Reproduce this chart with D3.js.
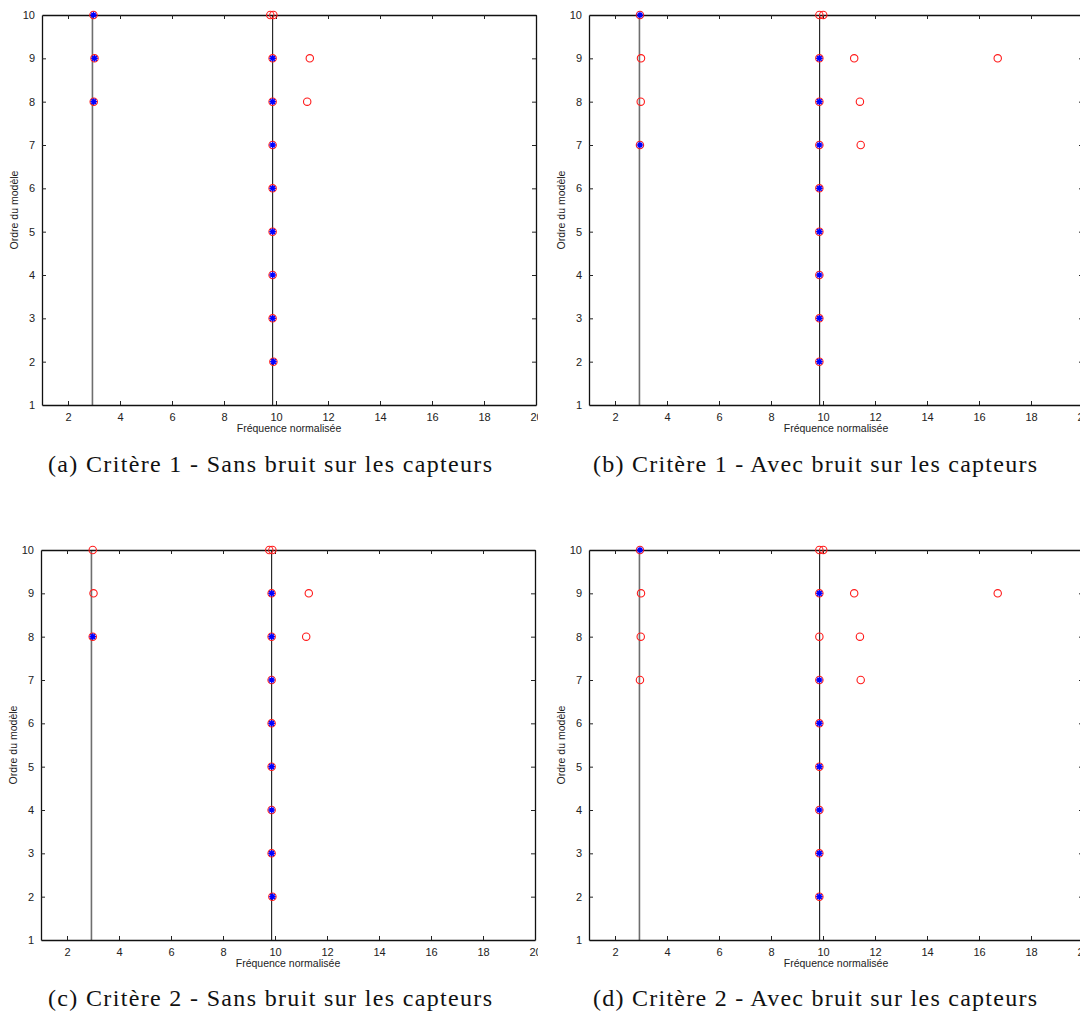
<!DOCTYPE html>
<html>
<head>
<meta charset="utf-8">
<script src="https://cdn.jsdelivr.net/npm/d3@7"></script>
<style>
  html, body { margin: 0; padding: 0; background: #fff; }
  svg { display: block; }
</style>
</head>
<body>
<svg id="chart" width="1080" height="1014"></svg>
<script>
// ---------------- DATA ----------------
const xTicks = [2, 4, 6, 8, 10, 12, 14, 16, 18, 20];
const yTicks = [1, 2, 3, 4, 5, 6, 7, 8, 9, 10];
const xDomain = [1, 20];
const yDomain = [1, 10];
const trueFreqs = [2.94, 9.87];

const xLabel = "Fréquence normalisée";
const yLabel = "Ordre du modèle";

const captions = [
  "(a) Critère 1 - Sans bruit sur les capteurs",
  "(b) Critère 1 - Avec bruit sur les capteurs",
  "(c) Critère 2 - Sans bruit sur les capteurs",
  "(d) Critère 2 - Avec bruit sur les capteurs"
];

// [frequency, model order]
const redA = [[2.98,10],[9.78,10],[9.9,10],[3.02,9],[9.87,9],[11.3,9],[2.99,8],[9.87,8],[11.2,8],
              [9.87,7],[9.87,6],[9.87,5],[9.87,4],[9.87,3],[9.9,2]];
const blueA = [[2.98,10],[3.02,9],[9.87,9],[2.99,8],[9.87,8],[9.87,7],[9.87,6],[9.87,5],[9.87,4],[9.87,3],[9.9,2]];

const redB = [[2.96,10],[9.86,10],[10.01,10],[3.0,9],[9.86,9],[11.2,9],[16.72,9],[2.99,8],[9.86,8],[11.42,8],
              [2.96,7],[9.86,7],[11.45,7],[9.86,6],[9.86,5],[9.86,4],[9.86,3],[9.86,2]];
const blueB = [[2.96,10],[9.86,9],[9.86,8],[2.96,7],[9.86,7],[9.86,6],[9.86,5],[9.86,4],[9.86,3],[9.86,2]];

const redC = [[2.99,10],[9.78,10],[9.9,10],[3.02,9],[9.87,9],[11.3,9],[2.99,8],[9.87,8],[11.2,8],
              [9.87,7],[9.87,6],[9.87,5],[9.87,4],[9.87,3],[9.9,2]];
const blueC = [[9.87,9],[2.99,8],[9.87,8],[9.87,7],[9.87,6],[9.87,5],[9.87,4],[9.87,3],[9.9,2]];

const redD = [[2.96,10],[9.86,10],[10.01,10],[3.0,9],[9.86,9],[11.2,9],[16.72,9],[2.99,8],[9.86,8],[11.42,8],
              [2.96,7],[9.86,7],[11.45,7],[9.86,6],[9.86,5],[9.86,4],[9.86,3],[9.86,2]];
const blueD = [[2.96,10],[9.86,9],[9.86,7],[9.86,6],[9.86,5],[9.86,4],[9.86,3],[9.86,2]];

// ---------------- LAYOUT ----------------
const panels = [
  { red: redA, blue: blueA, left: 42,  top: 15,  clipX: 0,   clipW: 538, capX: 270, capY: 472 },
  { red: redB, blue: blueB, left: 589, top: 15,  clipX: 540, clipW: 540, capX: 815, capY: 472 },
  { red: redC, blue: blueC, left: 41,  top: 550, clipX: 0,   clipW: 538, capX: 270, capY: 1006 },
  { red: redD, blue: blueD, left: 589, top: 550, clipX: 540, clipW: 540, capX: 815, capY: 1006 }
];
const plotW = 494, plotH = 390;

const svg = d3.select("#chart");
const defs = svg.append("defs");

panels.forEach((p, i) => {
  const clipId = "clip" + i;
  defs.append("clipPath").attr("id", clipId)
    .append("rect").attr("x", p.clipX).attr("y", p.top - 15).attr("width", p.clipW).attr("height", 470);

  const x = d3.scaleLinear().domain(xDomain).range([p.left, p.left + plotW]);
  const y = d3.scaleLinear().domain(yDomain).range([p.top + plotH, p.top]);

  const g = svg.append("g").attr("clip-path", `url(#${clipId})`);

  // true frequency lines
  g.selectAll("line.truth").data(trueFreqs).join("line")
    .attr("class", "truth")
    .attr("x1", d => x(d)).attr("x2", d => x(d))
    .attr("y1", y(yDomain[0])).attr("y2", y(yDomain[1]))
    .attr("stroke", (d, k) => k === 0 ? "#6e6e6e" : "#1a1a1a")
    .attr("stroke-width", (d, k) => k === 0 ? 1.6 : 1.1);

  // axes (box with inward ticks)
  const axFont = "Liberation Sans, Arial, sans-serif";
  const bottom = g.append("g").attr("transform", `translate(0,${p.top + plotH})`)
    .call(d3.axisBottom(x).tickValues(xTicks).tickSizeInner(-4).tickSizeOuter(0).tickPadding(8));
  const topAx = g.append("g").attr("transform", `translate(0,${p.top})`)
    .call(d3.axisTop(x).tickValues(xTicks).tickSizeInner(-4).tickSizeOuter(0).tickFormat(""));
  const leftAx = g.append("g").attr("transform", `translate(${p.left},0)`)
    .call(d3.axisLeft(y).tickValues(yTicks).tickSizeInner(-4).tickSizeOuter(0).tickPadding(7));
  const rightAx = g.append("g").attr("transform", `translate(${p.left + plotW},0)`)
    .call(d3.axisRight(y).tickValues(yTicks).tickSizeInner(-4).tickSizeOuter(0).tickFormat(""));

  [bottom, topAx, leftAx, rightAx].forEach(a => {
    a.select(".domain").attr("stroke", "#111").attr("stroke-width", 1.3);
    a.selectAll(".tick line").attr("stroke", "#222").attr("stroke-width", 1);
    a.selectAll(".tick text").attr("font-family", axFont).attr("font-size", 11).attr("fill", "#222");
  });
  leftAx.selectAll(".tick").filter(d => d === yDomain[0] || d === yDomain[1]).select("line").remove();
  rightAx.selectAll(".tick").filter(d => d === yDomain[0] || d === yDomain[1]).select("line").remove();

  // red circles
  g.selectAll("circle.red").data(p.red).join("circle")
    .attr("class", "red")
    .attr("cx", d => x(d[0])).attr("cy", d => y(d[1]))
    .attr("r", 3.7)
    .attr("fill", "none").attr("stroke", "#ff1a1a").attr("stroke-width", 1.1);

  // blue asterisks
  const star = g.selectAll("g.blue").data(p.blue).join("g")
    .attr("class", "blue")
    .attr("transform", d => `translate(${x(d[0])},${y(d[1])})`);
  star.append("circle").attr("r", 2.3).attr("fill", "#0000ff");
  const s = 3.3;
  [[ -s, 0, s, 0 ], [0, -s, 0, s], [-s*0.72, -s*0.72, s*0.72, s*0.72], [-s*0.72, s*0.72, s*0.72, -s*0.72]]
    .forEach(c => star.append("line")
      .attr("x1", c[0]).attr("y1", c[1]).attr("x2", c[2]).attr("y2", c[3])
      .attr("stroke", "#0000ff").attr("stroke-width", 1.3));

  // axis labels
  g.append("text")
    .attr("x", p.left + plotW / 2).attr("y", p.top + plotH + 27)
    .attr("text-anchor", "middle")
    .attr("font-family", axFont).attr("font-size", 10.5).attr("fill", "#222")
    .text(xLabel);
  g.append("text")
    .attr("transform", `translate(${p.left - 24},${p.top + plotH / 2}) rotate(-90)`)
    .attr("text-anchor", "middle")
    .attr("font-family", axFont).attr("font-size", 10.5).attr("fill", "#222")
    .text(yLabel);

  // caption
  svg.append("text")
    .attr("x", p.capX).attr("y", p.capY)
    .attr("text-anchor", "middle")
    .attr("font-family", "Liberation Serif, 'DejaVu Serif', serif")
    .attr("font-size", 24).attr("fill", "#111")
    .attr("textLength", 444).attr("lengthAdjust", "spacing")
    .text(captions[i]);
});
</script>
</body>
</html>
